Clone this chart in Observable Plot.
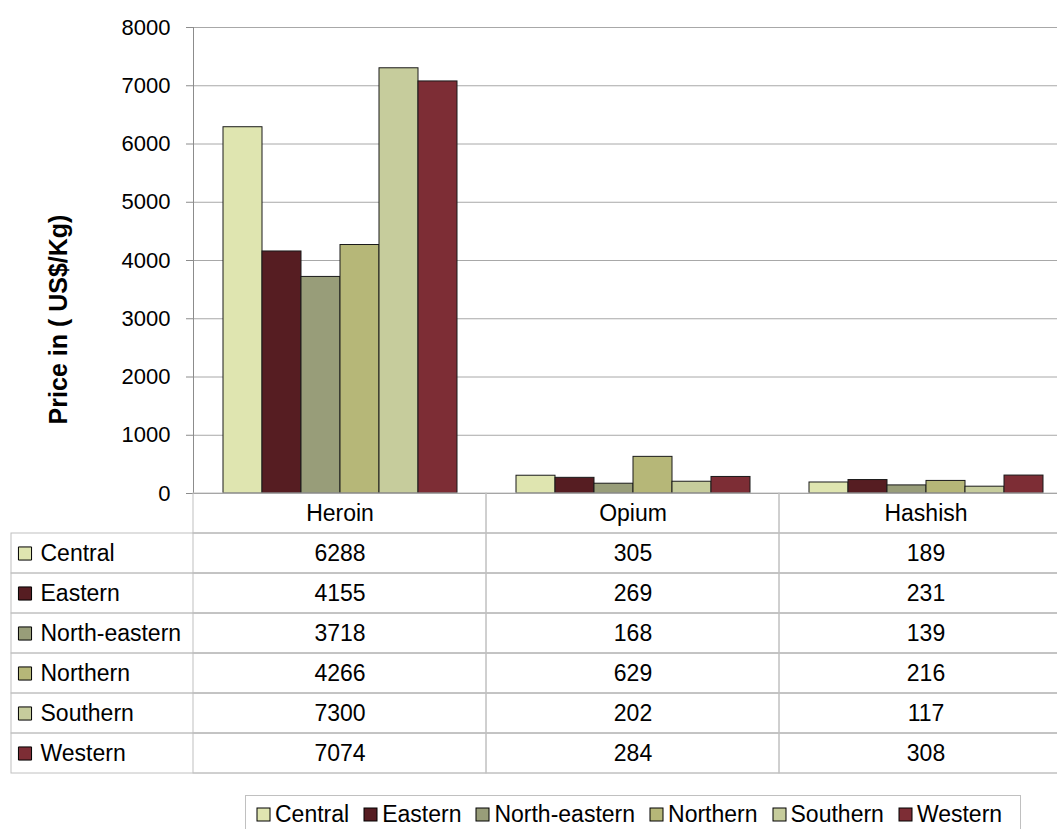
<!DOCTYPE html>
<html>
<head>
<meta charset="utf-8">
<script src="https://cdn.jsdelivr.net/npm/d3@7"></script>
<script src="https://cdn.jsdelivr.net/npm/@observablehq/plot@0.6"></script>
<style>
html, body { margin: 0; padding: 0; background: #fff; overflow: hidden; width: 1057px; height: 829px; }
#wrap { position: relative; width: 1057px; height: 829px; overflow: hidden; font-family: "Liberation Sans", Arial, sans-serif; }
#chart svg, #table svg { display: block; overflow: visible; max-width: none !important; }
#table { margin-top: -1px; }
#legend { position: absolute; left: 245px; top: 795px; width: 776px; height: 40px; border: 1px solid #c0c0c0; box-sizing: border-box; background: #fff; }
#legend .lg-swatches { font: 23px "Liberation Sans", Arial, sans-serif !important; margin: 0 !important; min-height: 0 !important; height: 36px; padding-left: 11px; display: flex; align-items: center; flex-wrap: nowrap; color: #000; }
#legend .lg-swatch { margin-right: 15px !important; display: inline-flex; align-items: center; }
#legend .lg-swatch > svg { margin-right: 5px !important; overflow: visible; }
#legend .lg-swatch rect { stroke: #000; stroke-width: 1; }
</style>
</head>
<body>
<div id="wrap">
  <div id="chart"></div>
  <div id="table"></div>
  <div id="legend"></div>
</div>
<script>
// ---- data ----
const drugs = ["Heroin", "Opium", "Hashish"];
const regions = ["Central", "Eastern", "North-eastern", "Northern", "Southern", "Western"];
const heroin = [6288, 4155, 3718, 4266, 7300, 7074];
const opium = [305, 269, 168, 629, 202, 284];
const hashish = [189, 231, 139, 216, 117, 308];
const colors = ["#dfe5b0", "#561d22", "#989d79", "#b6b778", "#c6cc9c", "#7d2d35"];
const yTicks = [0, 1000, 2000, 3000, 4000, 5000, 6000, 7000, 8000];
const yLabel = "Price in ( US$/Kg)";

// ---- build tables ----
const series = {Heroin: heroin, Opium: opium, Hashish: hashish};
const data = drugs.flatMap(d => regions.map((r, i) => ({drug: d, region: r, value: series[d][i]})));
const headerKey = "__header__";
const rows = [headerKey, ...regions];
const font = '"Liberation Sans", Arial, sans-serif';

// ---- chart ----
const chart = Plot.plot({
  width: 1072,
  height: 494,
  marginLeft: 192,
  marginRight: 0,
  marginTop: 27,
  marginBottom: 1,
  style: {fontFamily: font, fontSize: "22px", color: "#000", background: "transparent", overflow: "visible"},
  fx: {domain: drugs, padding: 0, axis: null},
  x: {domain: regions, paddingInner: 0, paddingOuter: 0.75, axis: null},
  y: {domain: [0, 8000], axis: null},
  color: {domain: regions, range: colors},
  marks: [
    Plot.ruleY(yTicks, {stroke: "#a8a8a8", strokeWidth: 1}),
    Plot.barY(data, {fx: "drug", x: "region", y: "value", fill: "region", stroke: "#1a1a1a", strokeWidth: 1}),
    Plot.ruleY([0], {stroke: "#8c8c8c", strokeWidth: 1}),
    Plot.frame({anchor: "left", stroke: "#8c8c8c", facet: "super"}),
    Plot.axisY(yTicks, {tickSize: 7, tickPadding: 16, stroke: "#8c8c8c", tickFormat: d => String(d), label: null}),
    Plot.text([yLabel], {fx: () => drugs[0], frameAnchor: "left", textAnchor: "middle", dx: -135, dy: 59, rotate: -90,
      text: d => d, fontWeight: "bold", fontSize: 25, fill: "#000"})
  ]
});
document.getElementById("chart").appendChild(chart);

// ---- data table ----
const table = Plot.plot({
  width: 1072,
  height: 282,
  marginLeft: 192,
  marginRight: 0,
  marginTop: 0,
  marginBottom: 2,
  style: {fontFamily: font, fontSize: "23px", color: "#000", background: "transparent", overflow: "visible"},
  x: {domain: drugs, padding: 0, axis: null},
  y: {domain: rows, padding: 0, axis: null},
  color: {domain: regions, range: colors},
  marks: [
    Plot.cell(regions, {y: d => d, fill: "none", stroke: "#c0c0c0", insetLeft: -181}),
    Plot.cell(drugs, {x: d => d, y: () => headerKey, fill: "none", stroke: "#c0c0c0"}),
    Plot.cell(data, {x: "drug", y: "region", fill: "none", stroke: "#c0c0c0"}),
    Plot.text(drugs, {x: d => d, y: () => headerKey, text: d => d, fill: "#000"}),
    Plot.text(data, {x: "drug", y: "region", text: d => String(d.value), fill: "#000"}),
    Plot.dot(regions, {y: d => d, frameAnchor: "left", dx: -167.5, symbol: "square", r: 7.4, fill: d => d, stroke: "#000", strokeWidth: 1}),
    Plot.text(regions, {y: d => d, frameAnchor: "left", textAnchor: "start", dx: -152, text: d => d, fill: "#000"})
  ]
});
document.getElementById("table").appendChild(table);

// ---- legend ----
const legend = Plot.legend({
  color: {domain: regions, range: colors},
  legend: "swatches",
  swatchSize: 13,
  className: "lg"
});
document.getElementById("legend").appendChild(legend);
</script>
</body>
</html>
